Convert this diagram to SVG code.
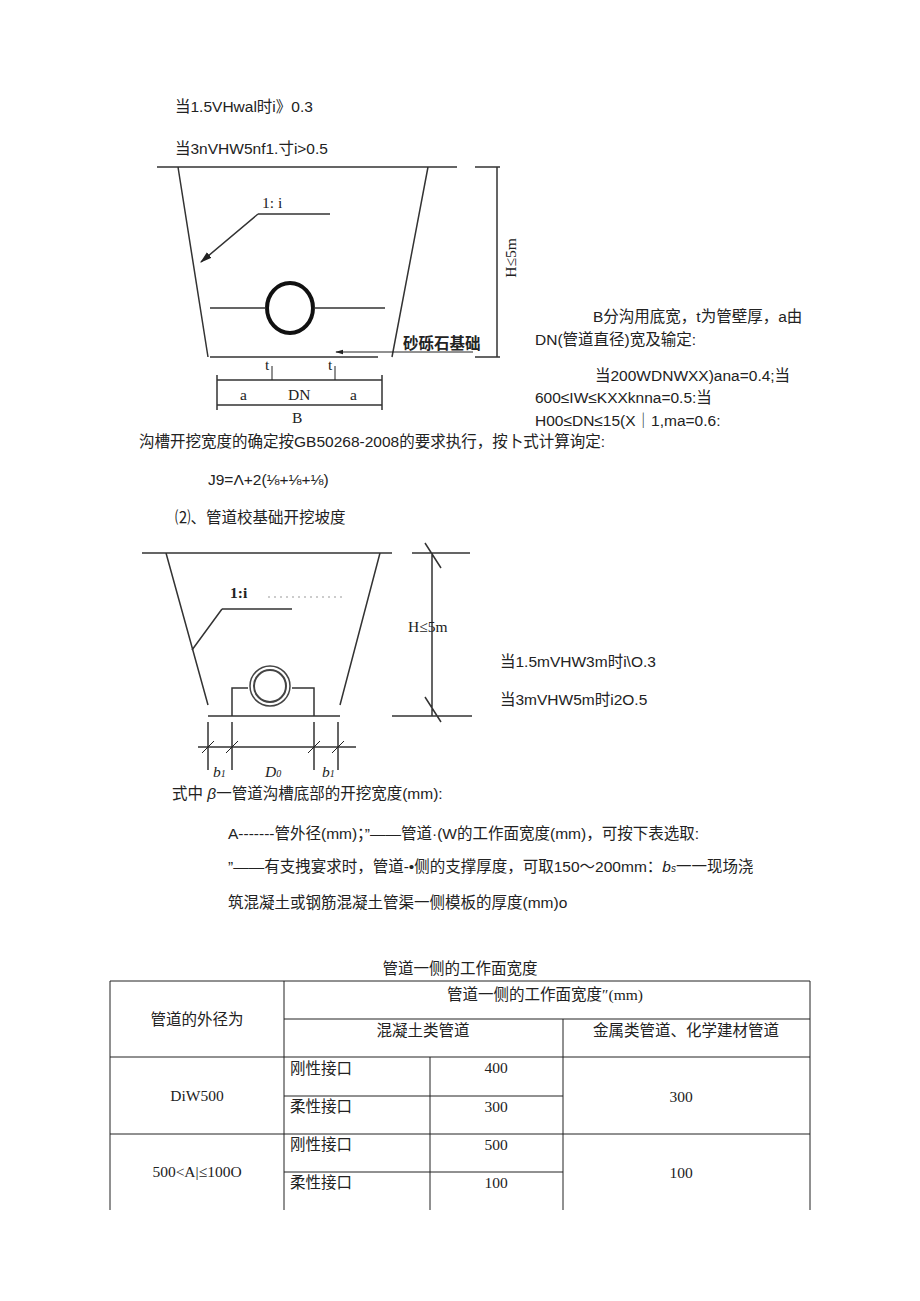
<svg xmlns="http://www.w3.org/2000/svg" width="920" height="1301" viewBox="0 0 920 1301">
<style>
.t{font-family:"Liberation Sans","Noto Sans CJK SC",sans-serif;font-size:15.5px;fill:#222}
.s{font-family:"Liberation Serif","Noto Sans CJK SC",serif;font-size:15.5px;fill:#222}
.l{stroke:#333;stroke-width:1.5;fill:none}
.th{stroke:#222;stroke-width:1;fill:none}
</style>
<defs><marker id="ar" viewBox="0 0 10 10" refX="9" refY="5" markerWidth="8" markerHeight="8" orient="auto"><path d="M0,2 L10,5 L0,8z" fill="#222"/></marker></defs>
<rect width="920" height="1301" fill="#fff"/>
<text class="t" x="175" y="112">当1.5VHwal时i》0.3</text>
<text class="t" x="175" y="154">当3nVHW5nf1.寸i&gt;0.5</text>
<g id="trench1">
<path class="l" d="M157 167H457M178 167L208 357M428 167L392 357M210 357H378"/>
<path class="l" d="M475 167H500M497 167V357M475 357H500"/>
<text class="s" transform="translate(516 258) rotate(-90)" text-anchor="middle">H≤5m</text>
<ellipse cx="290" cy="308" rx="23" ry="25" fill="none" stroke="#111" stroke-width="4"/>
<path class="l" d="M210 308H266M314 308H385"/>
<text class="s" x="262" y="208" font-size="19">1: i</text>
<path class="l" d="M258 214H330M258 214L201 262" marker-end="url(#ar)"/>
<text class="t" x="403" y="349" font-size="13" font-weight="bold">砂砾石基础</text>
<path class="th" d="M473 352H336" marker-end="url(#ar)"/>
<path class="l" d="M217 380H382M217 405H382M217 375V410M382 375V410"/>
<path class="th" d="M272 366V380M335 366V380"/>
<text class="s" x="265" y="370">t</text><text class="s" x="328" y="370">t</text>
<text class="s" x="240" y="400">a</text><text class="s" x="288" y="400">DN</text><text class="s" x="350" y="400">a</text>
<text class="s" x="292" y="423">B</text>
</g>
<text class="t" x="593" y="322">B分沟用底宽，t为管壁厚，a由</text>
<text class="t" x="535" y="345">DN(管道直径)宽及输定:</text>
<text class="t" x="595" y="381">当200WDNWXX)ana=0.4;当</text>
<text class="t" x="535" y="403">600≤IW≤KXXknna=0.5:当</text>
<text class="t" x="535" y="426">H00≤DN≤15(X｜1,ma=0.6:</text>
<text class="t" x="139" y="447">沟槽开挖宽度的确定按GB50268-2008的要求执行，按卜式计算询定:</text>
<text class="t" x="208" y="485">J9=Λ+2(⅛+⅛+⅛)</text>
<text class="t" x="175" y="523">⑵、管道校基础开挖坡度</text>
<g id="trench2">
<path class="l" d="M142 553H392M166 553L208 705M380 553L340 705M208 716H340"/>
<path class="l" d="M412 553H470M432 553V716M392 716H472M425 543L441 568M425 697L441 722"/>
<text class="s" x="408" y="632" font-size="14">H≤5m</text>
<text class="s" x="230" y="598" font-size="18" font-weight="bold">1:i</text>
<path d="M268 597H345" stroke="#999" stroke-dasharray="2 4"/>
<path class="l" d="M222 609H292M222 609L192 650"/>
<circle cx="270" cy="686" r="20" fill="none" stroke="#444" stroke-width="1.5"/>
<circle cx="270" cy="686" r="16" fill="none" stroke="#444" stroke-width="2"/>
<path class="l" d="M232 716V688H248M292 688H314V716"/>
<path class="l" d="M198 747H356M208 722V770M232 722V770M314 722V770M338 722V770"/>
<path class="th" d="M202 753L214 741M226 753L238 741M308 753L320 741M332 753L344 741"/>
<text class="s" x="213" y="777" font-style="italic">b<tspan font-size="10">1</tspan></text>
<text class="s" x="265" y="777" font-style="italic">D<tspan font-size="10">0</tspan></text>
<text class="s" x="322" y="777" font-style="italic">b<tspan font-size="10">1</tspan></text>
</g>
<text class="t" x="500" y="667">当1.5mVHW3m时i\O.3</text>
<text class="t" x="500" y="705">当3mVHW5m时i2O.5</text>
<text class="t" x="172" y="799">式中 <tspan font-style="italic">β</tspan>一管道沟槽底部的开挖宽度(mm):</text>
<text class="t" x="228" y="839">A-------管外径(mm)；”——管道·(W的工作面宽度(mm)，可按下表选取:</text>
<text class="t" x="228" y="872">”——有支拽宴求时，管道-•侧的支撑厚度，可取150～200mm：<tspan font-style="italic">b<tspan font-size="10">s</tspan></tspan>一一现场浇</text>
<text class="t" x="228" y="908">筑混凝土或钢筋混凝土管渠一侧模板的厚度(mm)o</text>
<g id="table">
<text class="s" x="460" y="974" text-anchor="middle">管道一侧的工作面宽度</text>
<path class="th" d="M110 981H810M284 1019H810M110 1057H810M284 1096H563M110 1134H810M284 1172H563"/>
<path class="th" d="M110 981V1210M284 981V1210M430 1057V1210M563 1019V1210M810 981V1210"/>
<text class="s" x="545" y="1000" text-anchor="middle">管道一侧的工作面宽度″(mm)</text>
<text class="s" x="197" y="1025" text-anchor="middle">管道的外径为</text>
<text class="s" x="423" y="1036" text-anchor="middle">混凝土类管道</text>
<text class="s" x="686" y="1036" text-anchor="middle">金属类管道、化学建材管道</text>
<text class="s" x="197" y="1101" text-anchor="middle">DiW500</text>
<text class="s" x="197" y="1177" text-anchor="middle">500&lt;A|≤100O</text>
<text class="s" x="290" y="1074">刚性接口</text><text class="s" x="290" y="1112">柔性接口</text>
<text class="s" x="290" y="1150">刚性接口</text><text class="s" x="290" y="1188">柔性接口</text>
<text class="s" x="496" y="1073" text-anchor="middle">400</text><text class="s" x="496" y="1112" text-anchor="middle">300</text>
<text class="s" x="496" y="1150" text-anchor="middle">500</text><text class="s" x="496" y="1188" text-anchor="middle">100</text>
<text class="s" x="681" y="1102" text-anchor="middle">300</text><text class="s" x="681" y="1178" text-anchor="middle">100</text>
</g>
</svg>
